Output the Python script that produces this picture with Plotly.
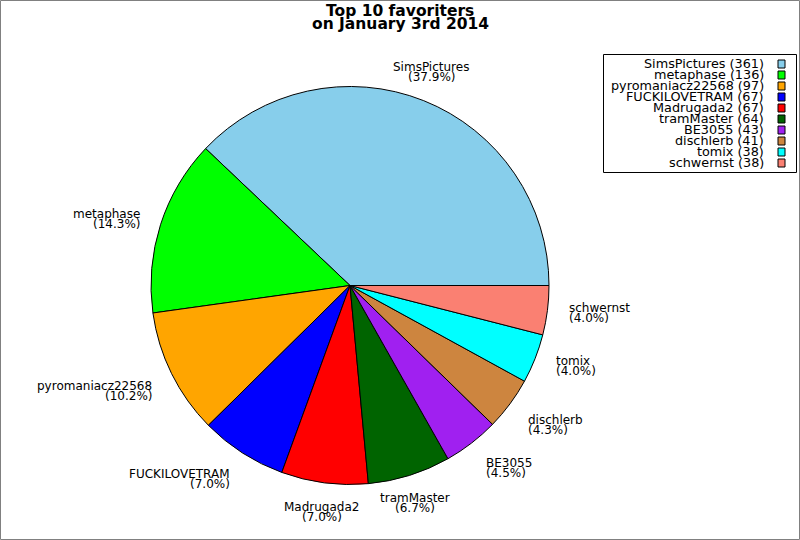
import math
import plotly.graph_objects as go

names = ["SimsPictures", "metaphase", "pyromaniacz22568", "FUCKILOVETRAM", "Madrugada2",
         "tramMaster", "BE3055", "dischlerb", "tomix", "schwernst"]
counts = [361, 136, 97, 67, 67, 64, 43, 41, 38, 38]
colors = ["#87CEEB", "#00FF00", "#FFA500", "#0000FF", "#FF0000",
          "#006400", "#A020F0", "#CD853F", "#00FFFF", "#FA8072"]
title_lines = ["Top 10 favoriters", "on January 3rd 2014"]

W, H = 800, 540
CX, CY, R = 350, 285.5, 199
FONT = "DejaVu Sans"


def px(x, y):
    # pixel -> paper coords (margins are zero)
    return x / W, 1 - y / H


total = sum(counts)
x0, y0 = px(CX - R, CY + R)
x1, y1 = px(CX + R, CY - R)

# plotly's counterclockwise pies put the first slice's far edge at `rotation`,
# so shift by the first slice to make it start at 3 o'clock
rot = 90 - 360.0 * counts[0] / total

fig = go.Figure(go.Pie(
    labels=names, values=counts, sort=False,
    direction="counterclockwise", rotation=rot,
    marker=dict(colors=colors, line=dict(color="black", width=1)),
    textinfo="none", showlegend=False,
    domain=dict(x=[x0, x1], y=[y0, y1]),
))

annotations = []
shapes = []

# slice labels
cum = 0
for name, v in zip(names, counts):
    theta = 2 * math.pi * (cum + v / 2) / total
    cum += v
    c, s = math.cos(theta), math.sin(theta)
    ax = CX + 1.1 * R * c
    ay = CY - 1.1 * R * s
    if abs(c) < 0.45:
        xa = "center"
    else:
        xa = "left" if c > 0 else "right"
    h = 20
    if s > 0.5:
        top = ay - h
    elif s < -0.4:
        top = ay - 1
    else:
        top = ay - h / 2
    for k, txt in enumerate([name, "(%.1f%%)" % (100.0 * v / total)]):
        xx, yy = px(ax, top + 5 + 10 * k)
        annotations.append(dict(x=xx, y=yy, xref="paper", yref="paper", text=txt,
                                showarrow=False, xanchor=xa, yanchor="middle",
                                font=dict(family=FONT, size=12, color="black")))

# title
for k, line in enumerate(title_lines):
    xx, yy = px(400, 11 + 13 * k)
    annotations.append(dict(x=xx, y=yy, xref="paper", yref="paper", text=line,
                            showarrow=False, xanchor="center", yanchor="middle",
                            font=dict(family=FONT, size=15.5, color="black", weight="bold")))

# legend
for i, (name, v, col) in enumerate(zip(names, counts, colors)):
    yc = 64 + 11 * i
    xx, yy = px(766, yc)
    annotations.append(dict(x=xx, y=yy, xref="paper", yref="paper",
                            text="%s (%d)" % (name, v), showarrow=False,
                            xanchor="right", yanchor="middle",
                            font=dict(family=FONT, size=12.8, color="black")))
    sx0, sy0 = px(778, yc + 4)
    sx1, sy1 = px(785, yc - 4)
    shapes.append(dict(type="rect", xref="paper", yref="paper", x0=sx0, y0=sy0, x1=sx1, y1=sy1,
                       fillcolor=col, line=dict(color="black", width=1)))

bx0, by0 = px(603.5, 172.5)
bx1, by1 = px(796.5, 54.5)
shapes.append(dict(type="rect", xref="paper", yref="paper", x0=bx0, y0=by0, x1=bx1, y1=by1,
                   line=dict(color="black", width=1)))

# outer frame
fx0, fy0 = px(0.5, 539.5)
fx1, fy1 = px(799.5, 0.5)
shapes.append(dict(type="rect", xref="paper", yref="paper", x0=fx0, y0=fy0, x1=fx1, y1=fy1,
                   line=dict(color="#808080", width=1)))

fig.update_layout(
    width=W, height=H,
    margin=dict(l=0, r=0, t=0, b=0),
    paper_bgcolor="white", plot_bgcolor="white",
    font=dict(family=FONT, size=12, color="black"),
    annotations=annotations, shapes=shapes,
)

fig.write_html("out.html", config={"displayModeBar": False},
               post_script="document.body.style.margin='0';")
